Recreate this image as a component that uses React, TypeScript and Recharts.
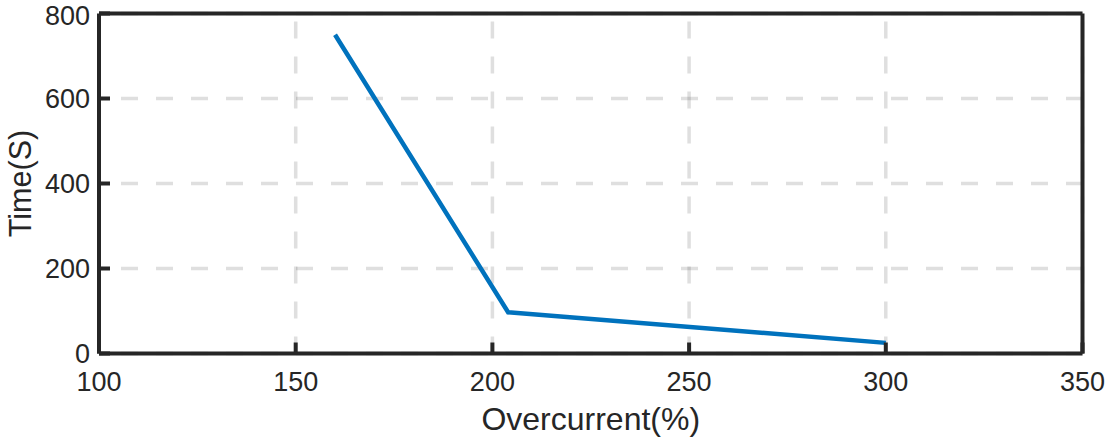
import React from 'react';
import { LineChart, Line, XAxis, YAxis, CartesianGrid } from 'recharts';

// values
const overcurrent = [160, 204, 300];
const timeS = [750, 97, 25];
const xTicks = [100, 150, 200, 250, 300, 350];
const yTicks = [0, 200, 400, 600, 800];

const AXIS = '#262626';
const FONT = '"Liberation Sans", Arial, Helvetica, sans-serif';

const data = overcurrent.map((x, i) => ({ x, t: timeS[i] }));

const tickStyle = { fill: AXIS, fontSize: 27, fontFamily: FONT };

const XLabel = (props: any) => {
  const { viewBox } = props;
  return (
    <text
      x={viewBox.x + viewBox.width / 2}
      y={viewBox.y + 76}
      textAnchor="middle"
      fill={AXIS}
      fontSize={32}
      fontFamily={FONT}
    >
      Overcurrent(%)
    </text>
  );
};

const YLabel = (props: any) => {
  const { viewBox } = props;
  const cx = viewBox.x + 31;
  const cy = viewBox.y + viewBox.height / 2;
  return (
    <text
      x={cx}
      y={cy}
      transform={`rotate(-90 ${cx} ${cy})`}
      textAnchor="middle"
      fill={AXIS}
      fontSize={30.5}
      fontFamily={FONT}
    >
      Time(S)
    </text>
  );
};

const App: React.FC = () => {
  return (
    <div style={{ position: 'absolute', left: 0, top: 0, width: 1107, height: 439, background: '#fff' }}>
      <LineChart width={1107} height={439} data={data} margin={{ top: 0, right: 0, bottom: 0, left: 0 }}>
        <CartesianGrid
          vertical={false}
          stroke={AXIS}
          strokeOpacity={0.15}
          strokeWidth={3.5}
          strokeDasharray="17 18"
          strokeDashoffset={13}
        />
        <CartesianGrid
          horizontal={false}
          stroke={AXIS}
          strokeOpacity={0.15}
          strokeWidth={3.5}
          strokeDasharray="17 18"
          strokeDashoffset={27}
        />
        <XAxis
          dataKey="x"
          type="number"
          domain={[100, 350]}
          ticks={xTicks}
          height={85.5}
          stroke={AXIS}
          strokeWidth={4}
          tickSize={-11}
          tickMargin={29}
          tick={tickStyle}
          label={<XLabel />}
        />
        <XAxis
          xAxisId="top"
          orientation="top"
          type="number"
          domain={[100, 350]}
          ticks={xTicks}
          height={13.5}
          stroke={AXIS}
          strokeWidth={4}
          tickSize={-11}
          tick={false}
        />
        <YAxis
          type="number"
          domain={[0, 800]}
          ticks={yTicks}
          width={99}
          stroke={AXIS}
          strokeWidth={4}
          tickSize={-11}
          tickMargin={20}
          tick={tickStyle}
          label={<YLabel />}
        />
        <YAxis
          yAxisId="right"
          orientation="right"
          type="number"
          domain={[0, 800]}
          ticks={yTicks}
          width={24.5}
          stroke={AXIS}
          strokeWidth={4}
          tickSize={-11}
          tick={false}
        />
        <Line
          type="linear"
          dataKey="t"
          stroke="#0072BD"
          strokeWidth={4.5}
          dot={false}
          activeDot={false}
          isAnimationActive={false}
        />
      </LineChart>
    </div>
  );
};

export default App;
